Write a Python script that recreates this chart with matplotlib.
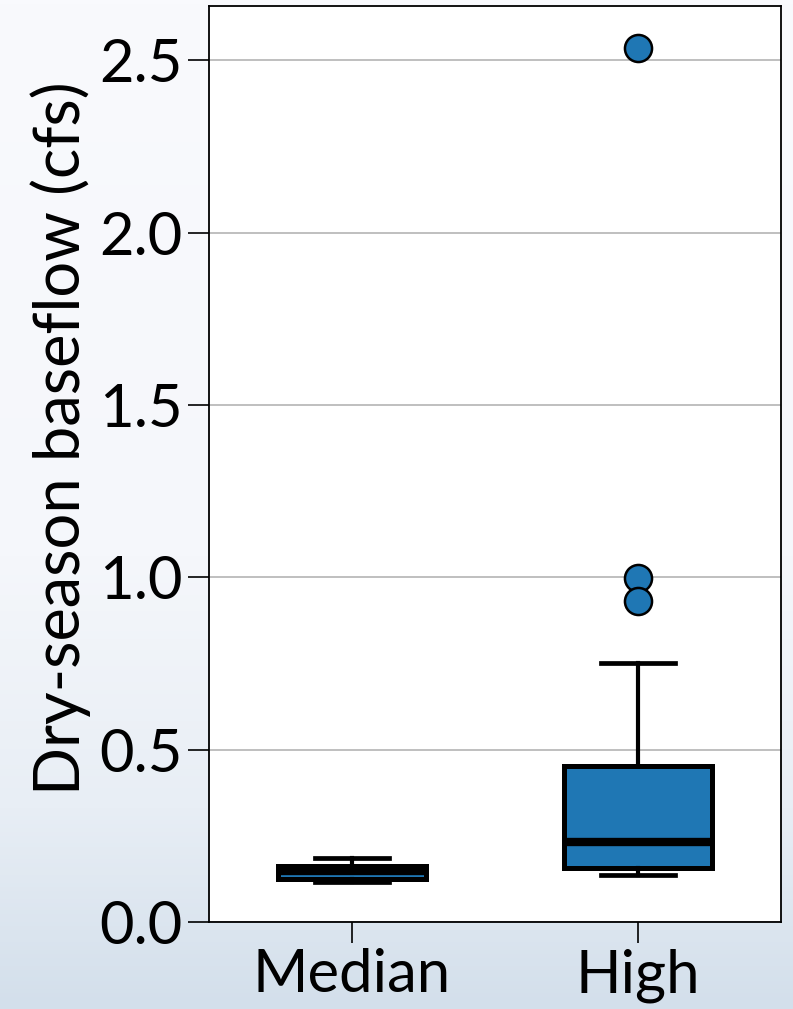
import numpy as np
import matplotlib
matplotlib.use("Agg")
import matplotlib.pyplot as plt
from matplotlib.colors import LinearSegmentedColormap

# ---- data ----
categories = ["Median", "High"]
q1 = [0.125, 0.157]
med = [0.147, 0.232]
q3 = [0.163, 0.453]
whislo = [0.115, 0.136]
whishi = [0.186, 0.751]
fliers = [[], [2.535, 0.998, 0.931]]
yticks = [0.0, 0.5, 1.0, 1.5, 2.0, 2.5]
ylabel = "Dry-season baseflow (cfs)"

plt.rcParams['font.family'] = ['Lato', 'DejaVu Sans']

fig = plt.figure(figsize=(7.93, 10.09), dpi=100)

# light background gradient
bg = fig.add_axes([0, 0, 1, 1], zorder=-10)
grad = np.linspace(0, 1, 256).reshape(-1, 1)
cmap = LinearSegmentedColormap.from_list(
    "bg", [(0, "#f9fafd"), (0.55, "#f5f7fb"), (0.8, "#e8eef5"), (1.0, "#d3dfeb")])
bg.imshow(grad, aspect="auto", cmap=cmap, extent=[0, 1, 0, 1], origin="upper")
bg.set_axis_off()

ax = fig.add_axes([0.2636, 0.0862, 0.7214, 0.9078])
ax.set_facecolor("white")

stats = []
for i, c in enumerate(categories):
    stats.append(dict(label=c, q1=q1[i], med=med[i], q3=q3[i],
                      whislo=whislo[i], whishi=whishi[i], fliers=fliers[i]))

ax.bxp(stats, positions=range(len(categories)), widths=0.52, patch_artist=True,
       boxprops=dict(facecolor="#1f77b4", edgecolor="black", linewidth=3.6),
       medianprops=dict(color="black", linewidth=6, solid_capstyle="butt"),
       whiskerprops=dict(color="black", linewidth=3.0),
       capprops=dict(color="black", linewidth=3.4),
       flierprops=dict(marker="o", markerfacecolor="#1f77b4",
                       markeredgecolor="black", markersize=19.5, markeredgewidth=1.8),
       zorder=3)

ax.set_xlim(-0.5, 1.5)
ax.set_ylim(0, 2.657)
ax.set_yticks(yticks)
ax.set_yticklabels([f"{v:.1f}" for v in yticks])
ax.set_xticks(range(len(categories)))
ax.set_xticklabels(categories)
ax.yaxis.grid(True, color="#b4b4b4", linewidth=1.2, zorder=0)
ax.set_axisbelow(True)

ax.tick_params(axis="both", labelsize=43, length=15, width=1.2, color="black",
               direction="out", pad=4)
ax.set_ylabel(ylabel, fontsize=45.5)
ax.yaxis.set_label_coords(-0.207, 0.528)
for s in ax.spines.values():
    s.set_linewidth(1.3)
    s.set_color("black")

fig.savefig("out.png", dpi=100, facecolor=fig.get_facecolor())
